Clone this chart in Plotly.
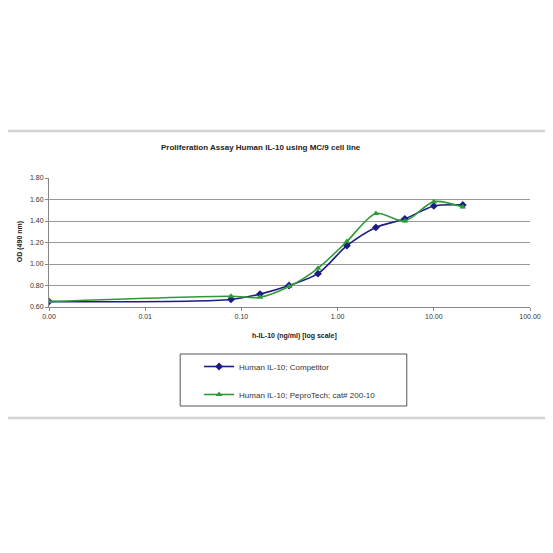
import plotly.graph_objects as go

conc = [0.001, 0.078, 0.156, 0.3125, 0.625, 1.25, 2.5, 5, 10, 20]
competitor = [0.65, 0.67, 0.72, 0.80, 0.91, 1.17, 1.34, 1.42, 1.54, 1.55]
peprotech = [0.65, 0.70, 0.69, 0.79, 0.96, 1.21, 1.47, 1.40, 1.58, 1.53]
x_ticks = [0.001, 0.01, 0.1, 1, 10, 100]
x_tick_labels = ["0.00", "0.01", "0.10", "1.00", "10.00", "100.00"]
y_ticks = [0.6, 0.8, 1.0, 1.2, 1.4, 1.6, 1.8]
y_tick_labels = ["0.60", "0.80", "1.00", "1.20", "1.40", "1.60", "1.80"]

FONT = "Liberation Sans, Arial, sans-serif"
OFF = 8  # default page body margin
FW, FH = 545, 545
L, T = 49 - OFF, 178 - OFF
PW = 533 - 49
PH = 307 - 178
R = FW - L - PW
B = FH - T - PH

def px_x(px):
    return (px - OFF - L) / PW

def px_y(py):
    return (T + PH - (py - OFF)) / PH

fig = go.Figure()
fig.add_trace(go.Scatter(
    x=conc, y=competitor, mode="lines+markers", name="Human IL-10; Competitor",
    line=dict(color="#1c1c84", width=1.6, shape="spline", smoothing=0.8),
    marker=dict(symbol="diamond", size=6, color="#1c1c84"),
    legendgroup="a"))
fig.add_trace(go.Scatter(
    x=conc, y=peprotech, mode="lines+markers", name="Human IL-10; PeproTech; cat# 200-10",
    line=dict(color="#2f9a3a", width=1.6, shape="spline", smoothing=0.8),
    marker=dict(symbol="triangle-up", size=6, color="#2f9a3a"),
    legendgroup="b"))

shapes = [
    dict(type="line", xref="paper", yref="paper", x0=px_x(0), x1=px_x(553),
         y0=px_y(131), y1=px_y(131), line=dict(color="#d4d4d4", width=2.5)),
    dict(type="line", xref="paper", yref="paper", x0=px_x(0), x1=px_x(553),
         y0=px_y(418), y1=px_y(418), line=dict(color="#d4d4d4", width=2.5)),
    dict(type="rect", xref="paper", yref="paper", x0=px_x(181), x1=px_x(409),
         y0=px_y(354), y1=px_y(406), line=dict(color="#555555", width=1)),
]

annotations = [
    dict(text="<b>Proliferation Assay Human IL-10 using MC/9 cell line</b>",
         xref="paper", yref="paper", x=px_x(262), y=px_y(147), showarrow=False,
         font=dict(size=8, color="#222222", family=FONT), xanchor="center", yanchor="middle"),
    dict(text="<b>h-IL-10 (ng/ml) [log scale]</b>",
         xref="paper", yref="paper", x=px_x(296), y=px_y(336), showarrow=False,
         font=dict(size=7, color="#222222", family=FONT), xanchor="center", yanchor="middle"),
    dict(text="<b>OD (490 nm)</b>", textangle=-90,
         xref="paper", yref="paper", x=px_x(20), y=px_y(242), showarrow=False,
         font=dict(size=7, color="#222222", family=FONT), xanchor="center", yanchor="middle"),
]

fig.update_layout(
    width=FW, height=FH,
    margin=dict(l=L, r=R, t=T, b=B),
    paper_bgcolor="white", plot_bgcolor="white",
    font=dict(family=FONT, size=7, color="#333333"),
    showlegend=True,
    legend=dict(x=px_x(200), y=px_y(352), xanchor="left", yanchor="top",
                bgcolor="rgba(0,0,0,0)", borderwidth=0,
                font=dict(size=8, color="#333333", family=FONT),
                traceorder="grouped", tracegroupgap=9, itemwidth=30),
    shapes=shapes, annotations=annotations,
    xaxis=dict(type="log", range=[-3, 2], tickvals=x_ticks, ticktext=x_tick_labels,
               showgrid=False, showline=True, linecolor="#888888", linewidth=1,
               ticks="outside", ticklen=3, tickcolor="#888888", zeroline=False,
               tickfont=dict(size=7, color="#333333")),
    yaxis=dict(range=[0.6, 1.8], tickvals=y_ticks, ticktext=y_tick_labels,
               showgrid=True, gridcolor="#999999", gridwidth=1,
               showline=True, linecolor="#888888", linewidth=1,
               ticks="outside", ticklen=3, tickcolor="#888888", zeroline=False,
               tickfont=dict(size=7, color="#333333")),
)

fig.write_html("out.html")
